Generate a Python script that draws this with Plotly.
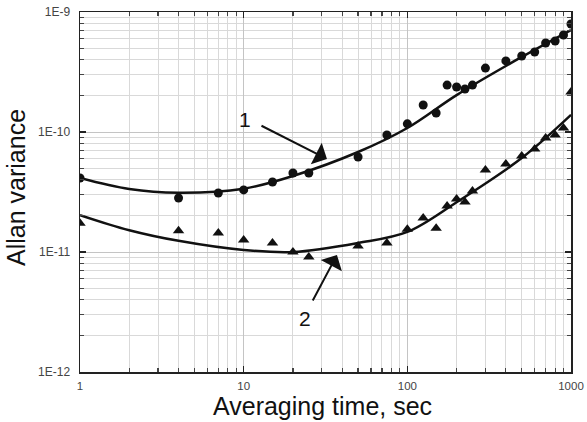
import plotly.graph_objects as go

# Series 1 (circles)
tau1 = [1, 4, 7, 10, 15, 20, 25, 50, 75, 100, 125, 150, 175, 200, 225, 250, 300, 400, 500, 600, 700, 800, 900, 1000]
avar1 = [4.14e-11, 2.82e-11, 3.1e-11, 3.29e-11, 3.83e-11, 4.55e-11, 4.55e-11, 6.19e-11, 9.44e-11, 1.17e-10,
         1.68e-10, 1.44e-10, 2.46e-10, 2.37e-10, 2.28e-10, 2.46e-10, 3.41e-10, 3.91e-10, 4.3e-10, 4.64e-10,
         5.52e-10, 5.73e-10, 6.43e-10, 7.94e-10]

# Series 2 (triangles)
tau2 = [1, 4, 7, 10, 15, 20, 25, 50, 75, 100, 125, 150, 175, 200, 225, 250, 300, 400, 500, 600, 700, 800, 900, 1000]
avar2 = [1.74e-11, 1.5e-11, 1.44e-11, 1.26e-11, 1.19e-11, 1.0e-11, 9.1e-12, 1.12e-11, 1.19e-11, 1.55e-11,
         1.92e-11, 1.58e-11, 2.42e-11, 2.77e-11, 2.61e-11, 3.22e-11, 4.82e-11, 5.41e-11, 6.31e-11, 7.22e-11,
         8.91e-11, 9.44e-11, 1.08e-10, 2.15e-10]

# Fit curves
fit_tau = [1, 2, 4, 10, 20, 50, 100, 200, 500, 1000]
fit1 = [4.14e-11, 3.35e-11, 3.12e-11, 3.37e-11, 4.3e-11, 6.81e-11, 1.08e-10, 2.03e-10, 4.22e-10, 7.08e-10]
fit2 = [2.03e-11, 1.52e-11, 1.24e-11, 1.04e-11, 1.0e-11, 1.19e-11, 1.47e-11, 2.6e-11, 6.07e-11, 1.39e-10]

x_ticks = [1, 10, 100, 1000]
x_ticktext = ["1", "10", "100", "1000"]
y_ticks = [1e-12, 1e-11, 1e-10, 1e-9]
y_ticktext = ["1E-12", "1E-11", "1E-10", "1E-9"]

FONT = "Liberation Sans, Arial, sans-serif"

fig = go.Figure()
fig.add_trace(go.Scatter(x=fit_tau, y=fit1, mode="lines", line=dict(color="#111", width=2.5, shape="spline"),
                         showlegend=False, hoverinfo="skip"))
fig.add_trace(go.Scatter(x=fit_tau, y=fit2, mode="lines", line=dict(color="#111", width=2.5, shape="spline"),
                         showlegend=False, hoverinfo="skip"))
fig.add_trace(go.Scatter(x=tau1, y=avar1, mode="markers",
                         marker=dict(symbol="circle", size=9, color="#111"), showlegend=False))
fig.add_trace(go.Scatter(x=tau2, y=avar2, mode="markers",
                         marker=dict(symbol="triangle-up", size=10, color="#111"), showlegend=False))

axis_common = dict(
    showline=True, linecolor="#222", linewidth=1.5, mirror="allticks",
    ticks="inside", ticklen=6, tickcolor="#222", tickwidth=1.2,
    showgrid=True, gridcolor="#c4c4c4", gridwidth=1,
    zeroline=False, automargin=False,
    minor=dict(ticks="inside", ticklen=4, tickcolor="#444", dtick="D1",
               showgrid=True, gridcolor="#d9d9d9", gridwidth=1),
)

fig.update_xaxes(type="log", range=[0, 3], tickvals=x_ticks, ticktext=x_ticktext,
                 ticklabelstandoff=3, tickfont=dict(family=FONT, size=11.5, color="#444"), **axis_common)
fig.update_yaxes(type="log", range=[-12, -9], tickvals=y_ticks, ticktext=y_ticktext,
                 ticklabelstandoff=6, tickfont=dict(family=FONT, size=12, color="#444"), **axis_common)

# axis titles
fig.add_annotation(x=0.5, y=0, xref="paper", yref="paper", xshift=-3, yshift=-34, xanchor="center",
                   yanchor="middle", text="Averaging time, sec", showarrow=False,
                   font=dict(family=FONT, size=25, color="#111"))
fig.add_annotation(x=0, y=0.5, xref="paper", yref="paper", xshift=-64, yshift=4, xanchor="center",
                   yanchor="middle", textangle=-90, text="Allan variance", showarrow=False,
                   font=dict(family=FONT, size=25, color="#111"))

# arrows
fig.add_annotation(x=1.509, y=-10.225, xref="x", yref="y", ax=-67, ay=-34, text="",
                   showarrow=True, arrowhead=1, arrowsize=2, arrowwidth=2, arrowcolor="#111")
fig.add_annotation(x=1.570, y=-11.025, xref="x", yref="y", ax=-25, ay=47, text="",
                   showarrow=True, arrowhead=1, arrowsize=2, arrowwidth=2, arrowcolor="#111")
fig.add_annotation(x=1.008, y=-9.892, xref="x", yref="y", text="1", showarrow=False,
                   font=dict(family=FONT, size=21, color="#111"))
fig.add_annotation(x=1.374, y=-11.55, xref="x", yref="y", text="2", showarrow=False,
                   font=dict(family=FONT, size=21, color="#111"))

fig.update_layout(
    width=587, height=422,
    margin=dict(l=80, r=16, t=12, b=50),
    paper_bgcolor="white", plot_bgcolor="white",
    hovermode=False,
)

fig.write_html("out.html", config={"displayModeBar": False, "staticPlot": True},
               post_script="document.body.style.margin='0';document.body.style.overflow='hidden';")
